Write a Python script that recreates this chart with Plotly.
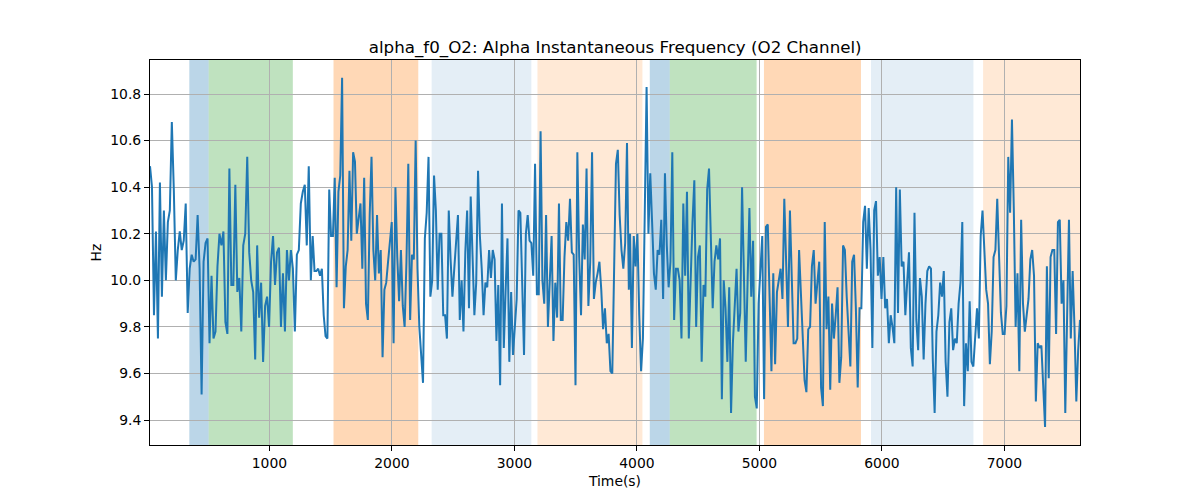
import numpy as np
import plotly.graph_objects as go

# ---- data ----
seg_bounds = [(25, 1321), (1338, 2629), (2643, 3934), (3944, 5233), (5249, 6535), (6551, 7617)]

seg1 = [10.49, 10.40, 9.85, 10.21, 9.75, 10.42, 9.93, 10.30, 10.00, 10.25, 10.30, 10.68, 10.39, 10.00, 10.13,
        10.21, 10.13, 10.17, 10.33, 9.86, 10.05, 10.11, 10.08, 10.09, 10.28, 10.05, 9.51, 10.08, 10.16, 10.18,
        9.73, 10.02, 9.75, 9.78, 10.06, 10.20, 10.15, 10.21, 9.82, 9.77, 10.48, 9.98, 9.98, 10.41, 9.95,
        10.01, 9.78, 10.15, 10.20, 10.53, 10.12, 10.00, 9.95, 9.66, 10.15, 9.84, 9.99, 9.65, 9.89, 9.93,
        9.80, 10.08, 10.19, 9.98, 10.12, 10.14, 9.80, 10.03, 9.78, 10.13, 10.00, 10.13, 10.05, 9.78, 10.11,
        10.13, 10.33, 10.38, 10.41, 10.15, 10.49]
seg2 = [10.00, 10.19, 10.04, 10.04, 10.05, 10.02, 10.05, 9.85, 9.76, 9.75, 10.39, 10.19, 10.19, 10.44, 9.97,
        10.38, 10.45, 10.87, 9.88, 10.06, 10.13, 10.47, 10.17, 10.55, 10.51, 10.20, 10.28, 10.33, 10.05, 10.44,
        9.90, 9.83, 10.28, 10.53, 10.13, 10.00, 10.28, 10.03, 10.13, 9.67, 9.96, 9.99, 10.08, 10.17, 10.25,
        9.73, 10.40, 10.10, 9.91, 10.13, 9.89, 9.80, 10.08, 10.50, 9.83, 10.11, 10.09, 10.60, 10.05, 9.80,
        9.70, 9.56, 10.18, 10.29, 10.53, 9.93, 10.00, 10.45, 10.30, 9.96, 10.20, 10.20, 9.85, 9.85, 9.75,
        10.30, 10.09, 9.93, 10.05, 10.17, 10.28, 9.83, 10.00, 9.78, 10.12, 10.30, 9.88]
seg3 = [10.36, 10.10, 9.85, 9.99, 10.47, 10.19, 10.05, 9.85, 9.99, 9.97, 10.13, 10.01, 10.13, 10.09, 9.74,
        9.98, 9.55, 10.33, 9.71, 9.96, 10.18, 9.65, 9.95, 9.68, 9.79, 9.92, 10.30, 10.29, 9.99, 9.68,
        10.20, 10.28, 10.17, 10.16, 10.02, 10.50, 9.94, 9.94, 10.64, 10.00, 9.90, 10.28, 9.80, 9.99, 10.19,
        9.74, 9.99, 9.84, 10.33, 9.83, 9.83, 10.10, 10.25, 10.17, 10.35, 10.12, 10.11, 9.55, 10.55, 10.10,
        9.85, 10.24, 10.09, 10.48, 9.89, 10.08, 10.55, 9.92, 9.99, 10.03, 10.08, 9.96, 9.79, 9.88, 9.73,
        9.77, 9.61, 9.60, 9.99, 10.50, 10.56, 10.28, 10.13, 10.05, 10.16, 10.59, 9.96]
seg4 = [10.20, 9.71, 10.19, 10.06, 10.20, 9.85, 9.61, 9.75, 10.35, 10.83, 10.20, 10.46, 10.25, 10.03, 9.96,
        10.13, 10.11, 10.26, 9.92, 10.46, 10.15, 9.97, 10.08, 10.55, 9.83, 10.05, 10.05, 10.00, 9.75, 10.33,
        10.02, 10.38, 9.75, 10.05, 10.25, 10.43, 9.80, 10.10, 10.15, 9.65, 9.98, 9.93, 10.39, 10.48, 10.22,
        9.88, 10.08, 10.15, 10.09, 10.18, 9.49, 10.00, 9.88, 9.65, 9.97, 9.43, 9.73, 9.90, 10.05, 9.78,
        9.86, 10.40, 9.99, 9.65, 9.99, 10.31, 9.93, 10.17, 9.50, 9.45, 9.90, 10.07, 10.19, 9.49, 10.23,
        10.24, 9.85, 9.61, 10.03, 9.64, 9.95, 10.00, 10.05, 9.92, 10.35, 10.08, 9.80]
seg5 = [10.30, 9.99, 9.73, 9.73, 9.75, 10.13, 9.96, 9.73, 9.57, 9.52, 9.79, 9.80, 10.06, 10.13, 9.90,
        9.99, 10.08, 9.54, 9.46, 10.25, 9.79, 9.93, 9.53, 9.90, 9.75, 9.85, 9.97, 9.56, 9.67, 10.15,
        10.13, 9.93, 9.78, 9.63, 10.08, 10.11, 9.88, 9.54, 9.88, 9.88, 10.25, 10.32, 10.05, 10.31, 10.13,
        9.71, 10.30, 10.34, 10.02, 10.10, 9.92, 10.10, 9.88, 9.92, 9.73, 9.85, 9.80, 9.73, 10.40, 9.86,
        10.39, 10.06, 10.08, 9.85, 9.99, 10.12, 9.71, 9.63, 10.29, 9.83, 9.70, 10.01, 9.93, 9.66, 9.90,
        10.04, 10.06, 10.05, 9.66, 9.43, 9.78, 9.85, 9.99, 9.93, 10.04, 9.65, 9.50]
seg6 = [9.82, 9.88, 9.70, 9.75, 9.73, 9.90, 9.99, 10.25, 9.46, 9.73, 9.61, 9.91, 9.65, 9.63, 9.75,
        9.88, 9.75, 10.19, 10.30, 10.15, 9.96, 9.90, 9.64, 9.78, 10.10, 10.13, 10.35, 10.10, 9.86, 9.77,
        9.77, 9.89, 10.53, 10.29, 10.69, 10.31, 9.80, 10.03, 9.61, 10.26, 9.90, 9.78, 9.85, 9.92, 10.09,
        10.13, 10.02, 9.48, 9.73, 9.71, 9.72, 9.56, 9.37, 10.06, 9.58, 10.10, 10.13, 10.13, 9.77, 10.25,
        10.26, 9.90, 10.00, 9.43, 9.89, 10.26, 9.75, 10.04, 9.80, 9.48, 9.70, 9.83]
segments = [seg1, seg2, seg3, seg4, seg5, seg6]

span_start = [346, 504, 1523, 2324, 3188, 4105, 4268, 5037, 5911, 6826]
span_end = [504, 1191, 2215, 3138, 4045, 4268, 4977, 5829, 6747, 7617]
span_color = ["#1f77b4", "#2ca02c", "#ff7f0e", "#1f77b4", "#ff7f0e",
              "#1f77b4", "#2ca02c", "#ff7f0e", "#1f77b4", "#ff7f0e"]
span_alpha = [0.3, 0.3, 0.3, 0.12, 0.17, 0.3, 0.3, 0.3, 0.12, 0.17]

x_ticks = [1000, 2000, 3000, 4000, 5000, 6000, 7000]
y_ticks = [9.4, 9.6, 9.8, 10.0, 10.2, 10.4, 10.6, 10.8]

# ---- build series ----
t_all, v_all = [], []
for (t0, t1), vals in zip(seg_bounds, segments):
    t_all.extend(np.linspace(t0, t1, len(vals)).tolist())
    v_all.extend(vals)

fig = go.Figure()
fig.add_trace(go.Scatter(x=t_all, y=v_all, mode="lines",
                         line=dict(color="#1f77b4", width=2), showlegend=False))

for s, e, c, a in zip(span_start, span_end, span_color, span_alpha):
    fig.add_shape(type="rect", xref="x", yref="paper", x0=s, x1=e, y0=0, y1=1,
                  fillcolor=c, opacity=a, line=dict(width=0), layer="below")

font_family = "DejaVu Sans"
axis_common = dict(showline=True, mirror=True, linecolor="black", linewidth=1,
                   ticks="outside", ticklen=5, tickwidth=1, tickcolor="black",
                   showgrid=True, gridcolor="#b0b0b0", gridwidth=0.8, zeroline=False,
                   tickfont=dict(family=font_family, size=13.9, color="black"))

fig.update_layout(
    width=1200, height=500,
    paper_bgcolor="white", plot_bgcolor="white",
    margin=dict(l=142, r=128, t=52, b=63),
    title=dict(text="alpha_f0_O2: Alpha Instantaneous Frequency (O2 Channel)",
               x=0.506, xanchor="center", y=1 - 39 / 500, yanchor="middle",
               font=dict(family=font_family, size=16.7, color="black")),
    xaxis=dict(range=[25, 7617], tickvals=x_ticks, ticktext=[str(v) for v in x_ticks],
               title=dict(text="Time(s)", font=dict(family=font_family, size=13.9, color="black"), standoff=6),
               **axis_common),
    yaxis=dict(range=[9.293, 10.946], tickvals=y_ticks, ticktext=[f"{v:.1f}" for v in y_ticks],
               title=dict(text="Hz", font=dict(family=font_family, size=13.9, color="black"), standoff=5),
               **axis_common),
)

fig.write_html("out.html")
